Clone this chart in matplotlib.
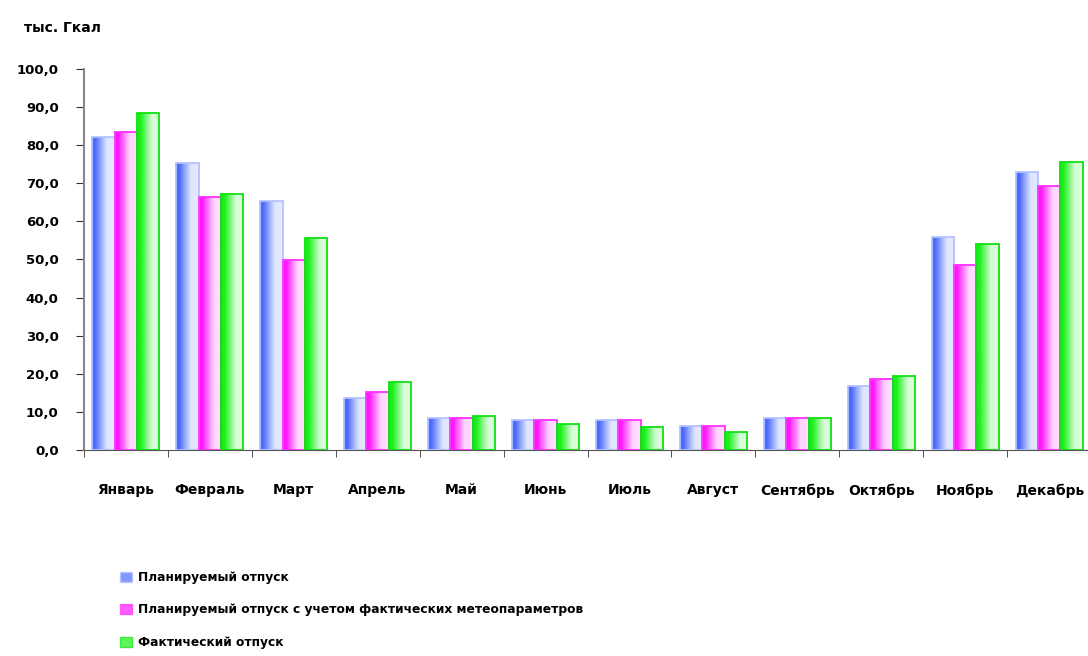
import matplotlib.pyplot as plt
import numpy as np
from matplotlib.patches import Patch

months = ['Январь', 'Февраль', 'Март', 'Апрель', 'Май', 'Июнь', 'Июль',
          'Август', 'Сентябрь', 'Октябрь', 'Ноябрь', 'Декабрь']
planned = [82.0, 75.2, 65.4, 13.6, 8.5, 8.0, 8.0, 6.3, 8.5, 16.8, 55.8, 72.9]
planned_meteo = [83.4, 66.3, 49.9, 15.2, 8.5, 8.0, 8.0, 6.3, 8.5, 18.6, 48.6, 69.3]
actual = [88.4, 67.3, 55.7, 17.8, 9.0, 6.8, 6.0, 4.6, 8.3, 19.4, 54.1, 75.5]
series_names = ['Планируемый отпуск',
                'Планируемый отпуск с учетом фактических метеопараметров',
                'Фактический отпуск']
yticks = np.arange(0, 101, 10)

colors = ['#4d6cff', '#ff18ff', '#18f018']
edges = ['#b4c2ff', '#ff30ff', '#10e010']

fig = plt.figure(figsize=(10.88, 6.56), dpi=100)
ax = fig.add_axes([0.077, 0.314, 0.926, 0.581])

x = np.arange(len(months))
w = 0.266
data = [planned, planned_meteo, actual]


def gradient(col):
    # saturated on the left, fading to a pale tint on the right
    c = np.array(plt.matplotlib.colors.to_rgb(col))
    s = np.linspace(0, 1, 48)
    t = np.clip((s - 0.15) / 0.5, 0, 1) ** 0.9
    mix = 0.74 + 0.12 * s
    rgb = c[None, :] * (1 - t[:, None] * mix[:, None]) + (t * mix)[:, None]
    return rgb[None, :, :]


for i, vals in enumerate(data):
    bars = ax.bar(x + (i - 1) * w, vals, w, color='none', edgecolor=edges[i],
                  linewidth=1.3, zorder=3)
    img = gradient(colors[i])
    for b in bars:
        x0, y0 = b.get_x(), b.get_y()
        im = ax.imshow(img, extent=[x0, x0 + b.get_width(), y0, y0 + b.get_height()],
                       aspect='auto', zorder=2, interpolation='bilinear')
        im.set_clip_path(b)

ax.set_xlim(-0.5, len(months) - 0.5)
ax.set_ylim(0, 100)
ax.set_yticks(yticks)
ax.set_yticklabels([f'{v:.1f}'.replace('.', ',') for v in yticks],
                   fontsize=9.5, fontweight='bold')
ax.set_xticks(x)
ax.set_xticklabels(months, fontsize=10, fontweight='bold')
ax.set_xticks(np.arange(-0.5, len(months), 1), minor=True)
ax.tick_params(axis='x', which='major', length=0, pad=24)
ax.tick_params(axis='x', which='minor', length=5, color='#333333', direction='out')
ax.tick_params(axis='y', length=6, color='#333333', pad=12)
for s in ['top', 'right']:
    ax.spines[s].set_visible(False)
ax.spines['left'].set_color('#888888')
ax.spines['left'].set_linewidth(1.5)
ax.spines['bottom'].set_color('#555555')

fig.text(0.022, 0.958, 'тыс. Гкал', fontsize=10, fontweight='bold', va='center')

handles = [Patch(facecolor=colors[i], edgecolor=edges[i], alpha=0.7) for i in range(3)]
fig.legend(handles, series_names, loc='lower left', bbox_to_anchor=(0.1, -0.006),
           frameon=False, prop={'size': 8.8, 'weight': 'bold'},
           handlelength=1.0, handleheight=0.9, handletextpad=0.5, labelspacing=1.6)

fig.savefig('out.png', dpi=100)
